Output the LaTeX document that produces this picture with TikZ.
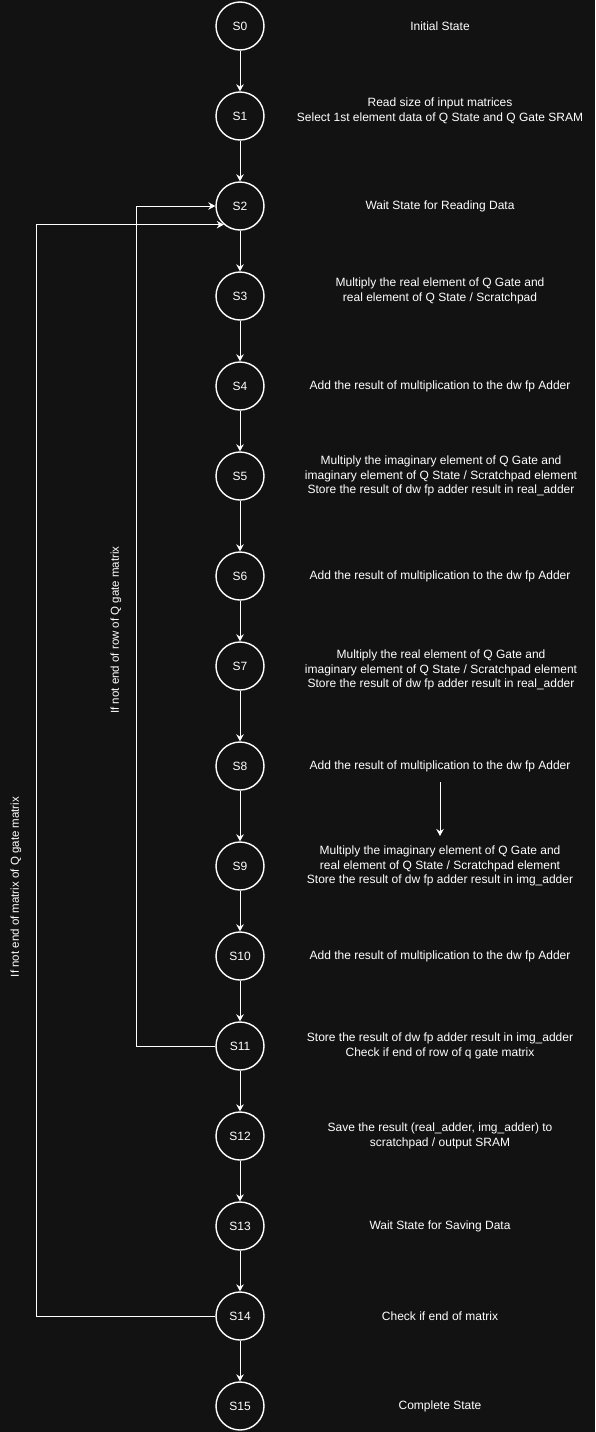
\documentclass[tikz,border=0pt]{standalone}
\usepackage{fontspec}
\setmainfont{Liberation Sans}
\usetikzlibrary{arrows.meta}
\definecolor{bgdark}{RGB}{18,18,18}
\tikzset{
  state/.style = {circle, draw=white, line width=1.4pt,
                  minimum size=48pt, inner sep=0pt,
                  fill=bgdark, text=white,
                  font=\fontsize{12}{14}\selectfont},
  desc/.style  = {align=center, text=white,
                  font=\fontsize{12}{14.8}\selectfont},
  guard/.style = {text=white, rotate=90,
                  font=\fontsize{11.5}{14}\selectfont},
  flow/.style  = {draw=white, line width=0.9pt,
                  -{Stealth[length=7pt,width=7.5pt]}}
}

\begin{document}
\begin{tikzpicture}[x=1pt,y=-1pt]
  \fill[bgdark] (0,0) rectangle (595,1432);
  \useasboundingbox (0,0) rectangle (595,1432);

  % states
  \node[state] (s0)  at (240,26)   {S0};
  \node[state] (s1)  at (240,116)  {S1};
  \node[state] (s2)  at (240,206)  {S2};
  \node[state] (s3)  at (240,296)  {S3};
  \node[state] (s4)  at (240,386)  {S4};
  \node[state] (s5)  at (240,476)  {S5};
  \node[state] (s6)  at (240,576)  {S6};
  \node[state] (s7)  at (240,666)  {S7};
  \node[state] (s8)  at (240,766)  {S8};
  \node[state] (s9)  at (240,866)  {S9};
  \node[state] (s10) at (240,956)  {S10};
  \node[state] (s11) at (240,1046) {S11};
  \node[state] (s12) at (240,1136) {S12};
  \node[state] (s13) at (240,1226) {S13};
  \node[state] (s14) at (240,1316) {S14};
  \node[state] (s15) at (240,1406) {S15};

  % what each state does
  \node[desc] (d0)  at (440,26)   {Initial State};
  \node[desc] (d1)  at (440,111)  {Read size of input matrices\\
                                   Select 1st element data of Q State and Q Gate SRAM};
  \node[desc] (d2)  at (440,206)  {Wait State for Reading Data};
  \node[desc] (d3)  at (440,291)  {Multiply the real element of Q Gate and\\
                                   real element of Q State / Scratchpad};
  \node[desc] (d4)  at (440,386)  {Add the result of multiplication to the dw fp Adder};
  \node[desc] (d5)  at (441,476)  {Multiply the imaginary element of Q Gate and\\
                                   imaginary element of Q State / Scratchpad element\\
                                   Store the result of dw fp adder result in real\_adder};
  \node[desc] (d6)  at (440,576)  {Add the result of multiplication to the dw fp Adder};
  \node[desc] (d7)  at (441,670)  {Multiply the real element of Q Gate and\\
                                   imaginary element of Q State / Scratchpad element\\
                                   Store the result of dw fp adder result in real\_adder};
  \node[desc] (d8)  at (440,766)  {Add the result of multiplication to the dw fp Adder};
  \node[desc] (d9)  at (440,866)  {Multiply the imaginary element of Q Gate and\\
                                   real element of Q State / Scratchpad element\\
                                   Store the result of dw fp adder result in img\_adder};
  \node[desc] (d10) at (440,956)  {Add the result of multiplication to the dw fp Adder};
  \node[desc] (d11) at (440,1046) {Store the result of dw fp adder result in img\_adder\\
                                   Check if end of row of q gate matrix};
  \node[desc] (d12) at (440,1136) {Save the result (real\_adder, img\_adder) to\\
                                   scratchpad / output SRAM};
  \node[desc] (d13) at (440,1226) {Wait State for Saving Data};
  \node[desc] (d14) at (440,1316) {Check if end of matrix};
  \node[desc] (d15) at (440,1406) {Complete State};

  % main chain
  \draw[flow] (s0) -- (s1);
  \draw[flow] (s1) -- (s2);
  \draw[flow] (s2) -- (s3);
  \draw[flow] (s3) -- (s4);
  \draw[flow] (s4) -- (s5);
  \draw[flow] (s5) -- (s6);
  \draw[flow] (s6) -- (s7);
  \draw[flow] (s7) -- (s8);
  \draw[flow] (s8) -- (s9);
  \draw[flow] (s9) -- (s10);
  \draw[flow] (s10) -- (s11);
  \draw[flow] (s11) -- (s12);
  \draw[flow] (s12) -- (s13);
  \draw[flow] (s13) -- (s14);
  \draw[flow] (s14) -- (s15);

  % loop back edges
  \coordinate (rowturn) at (136,0);
  \coordinate (matturn) at (36,0);
  \draw[flow] (s11.west) -- (s11.west -| rowturn) |- (s2.west);
  \draw[flow] (s14.west) -- (s14.west -| matturn) |- (s2.229.5);
  \node[guard] (rowlabel) at (116,630) {If not end of row of Q gate matrix};
  \node[guard] (matlabel) at (16,887)  {If not end of matrix of Q gate matrix};

  % loose arrow
  \coordinate (loosetop) at (440,782);
  \coordinate (looseend) at (440,836);
  \draw[flow] (loosetop) -- (looseend);
\end{tikzpicture}
\end{document}
